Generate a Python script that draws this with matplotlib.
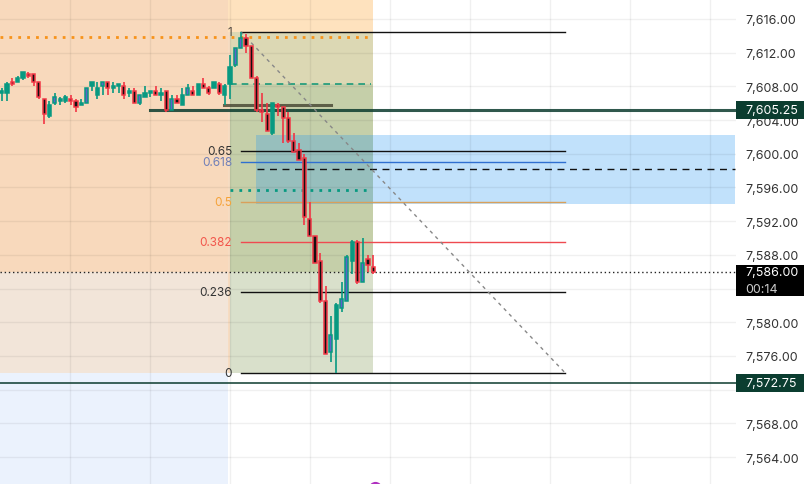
import matplotlib
matplotlib.use("Agg")
import matplotlib.pyplot as plt
import matplotlib.transforms as mtransforms
from matplotlib.patches import Rectangle

plt.rcParams['font.family'] = ['Inter', 'DejaVu Sans']

# candle data (one per bar)
opens = [7607.25, 7607.25, 7608.5, 7608.5, 7609.0, 7609.5, 7609.5, 7608.5, 7606.5, 7604.5,
         7606.0, 7606.25, 7606.25, 7606.5, 7606.25, 7605.75, 7606.0, 7608.0, 7607.0, 7608.0,
         7608.5, 7607.75, 7608.0, 7608.0, 7607.25, 7607.5, 7606.0, 7606.75, 7607.25, 7607.5,
         7607.0, 7607.5, 7605.25, 7606.5, 7605.75, 7607.0, 7607.5, 7607.0, 7608.25, 7607.75,
         7607.75, 7608.25, 7607.0, 7608.25, 7610.5, 7612.5, 7613.75, 7612.75, 7609.0, 7605.25,
         7604.75, 7602.5, 7605.75, 7605.5, 7604.25, 7601.5, 7600.5, 7599.5, 7592.25, 7590.25,
         7587.25, 7582.5, 7576.5, 7578.0, 7581.75, 7582.5, 7587.25, 7589.5, 7584.75, 7587.5,
         7586.5]
highs = [7607.75, 7608.5, 7609.0, 7609.25, 7609.75, 7609.75, 7609.5, 7608.5, 7606.5, 7606.25,
         7607.25, 7606.75, 7607.0, 7607.0, 7606.5, 7606.5, 7607.75, 7608.5, 7608.5, 7608.5,
         7608.5, 7608.5, 7608.25, 7608.5, 7607.75, 7607.75, 7607.0, 7608.0, 7607.5, 7608.0,
         7607.75, 7607.5, 7607.0, 7607.0, 7607.75, 7608.25, 7608.0, 7608.25, 7609.0, 7608.0,
         7608.5, 7608.5, 7608.25, 7611.75, 7612.5, 7614.5, 7614.25, 7612.75, 7609.25, 7607.25,
         7606.0, 7606.0, 7606.0, 7605.5, 7605.0, 7602.5, 7601.25, 7600.0, 7594.25, 7590.25,
         7588.25, 7584.25, 7580.75, 7582.25, 7584.75, 7588.0, 7589.75, 7589.75, 7590.0, 7588.0,
         7588.0]
lows = [7606.25, 7606.25, 7608.0, 7608.5, 7608.75, 7609.0, 7608.0, 7606.5, 7603.5, 7604.25,
        7605.75, 7605.75, 7606.0, 7605.75, 7605.0, 7605.75, 7606.0, 7607.5, 7606.5, 7607.0,
        7607.0, 7607.25, 7607.25, 7606.5, 7606.75, 7606.0, 7605.75, 7606.75, 7606.75, 7607.0,
        7606.25, 7605.0, 7605.25, 7606.0, 7605.75, 7607.0, 7607.0, 7607.0, 7607.75, 7607.0,
        7607.75, 7607.0, 7605.75, 7606.5, 7610.25, 7612.5, 7612.0, 7609.0, 7605.0, 7603.75,
        7602.75, 7602.25, 7604.5, 7601.25, 7601.25, 7600.25, 7599.25, 7591.5, 7590.25, 7587.0,
        7582.25, 7576.25, 7575.25, 7574.0, 7581.25, 7582.5, 7585.75, 7584.5, 7584.75, 7586.0,
        7585.75]
closes = [7607.5, 7608.25, 7608.25, 7609.0, 7609.75, 7609.25, 7608.5, 7606.75, 7604.75, 7605.75,
          7606.75, 7606.5, 7606.75, 7606.25, 7605.5, 7606.0, 7607.75, 7608.5, 7607.75, 7608.5,
          7607.75, 7608.0, 7608.25, 7607.0, 7607.5, 7606.0, 7607.0, 7607.25, 7607.5, 7607.0,
          7607.25, 7605.25, 7606.5, 7606.0, 7607.0, 7607.75, 7607.0, 7608.25, 7607.75, 7607.25,
          7608.5, 7607.25, 7608.0, 7610.25, 7612.5, 7613.75, 7612.75, 7609.0, 7605.25, 7605.0,
          7602.75, 7606.0, 7605.5, 7604.25, 7601.5, 7600.25, 7599.25, 7592.5, 7590.25, 7587.0,
          7582.5, 7576.25, 7578.5, 7582.0, 7582.75, 7587.75, 7589.5, 7584.75, 7587.0, 7586.75,
          7586.0]
violet = [10, 16, 19, 26, 32, 35, 44, 45, 62, 64, 65, 68]

# fib retracement
fib_high = 7614.5
fib_low = 7574.0
fib_ratios = [1, 0.65, 0.618, 0.5, 0.382, 0.236, 0]
fib_labels = ['1', '0.65', '0.618', '0.5', '0.382', '0.236', '0']
fib_line_colors = ['#111111', '#111111', '#2f6fd0', '#d9a05b', '#ef4a50', '#111111', '#111111']
fib_text_colors = ['#5a5048', '#333333', '#6f7fb8', '#f5a33a', '#f2564b', '#333333', '#333333']

# horizontal levels
last_price = 7586.0
level_a = 7605.25
level_b = 7572.75
yticks = [7564, 7568, 7572, 7576, 7580, 7584, 7588, 7592, 7596, 7600, 7604, 7608, 7612, 7616]
hidden_ticks = [7572, 7584]   # covered by the price boxes

W, H = 809, 485
fig = plt.figure(figsize=(W / 100, H / 100), dpi=100)
ax = fig.add_axes([0, 0, 736 / W, 1])
ymin, ymax = 7560.8, 7618.37
xmin, xmax = -0.32, 138.3
ax.set_xlim(xmin, xmax)
ax.set_ylim(ymin, ymax)
for s in ax.spines.values():
    s.set_visible(False)

# background zones
def zone(x0, x1, y0, y1, c, z=0):
    ax.add_patch(Rectangle((x0, y0), x1 - x0, y1 - y0, facecolor=c, edgecolor='none', zorder=z))

zone(xmin, 42.6, last_price, ymax, '#f8d9bc')
zone(xmin, 42.6, fib_low, last_price, '#f2e5d9')
zone(xmin, 42.6, ymin, fib_low, '#ebf2fd')
zone(42.6, 70, fib_high, ymax, '#fee2be')
zone(42.6, 43, fib_low, fib_high, '#f6dcc2')
zone(43, 70, 7608.25, fib_high, '#dcd8b4')
zone(43, 70, last_price, 7608.25, '#c5cfa9')
zone(43, 70, fib_low, last_price, '#d9e0cb')
ax.add_patch(Rectangle((47.9, 7594.0), 138.1 - 47.9, 8.25, facecolor='#2196f3', alpha=0.28,
                       edgecolor='none', zorder=1))

# grid
for yt in yticks:
    ax.axhline(yt, color='black', alpha=0.06, lw=1, zorder=1.5)
for k in range(9):
    ax.axvline(12.86 + 15.07 * k, color='black', alpha=0.06, lw=1, zorder=1.5)

# drawings
ax.plot([xmin, 70], [7613.85, 7613.85], color='#f7931a', lw=2, ls=(0, (1, 2.2)), zorder=2)
ax.plot([43, 69.5], [7608.25, 7608.25], color='#1a9a7a', lw=1.2, ls=(0, (4, 3)), zorder=2)
ax.plot([43, 69.5], [7595.75, 7595.75], color='#089981', lw=2, ls=(0, (1, 2.2)), zorder=2)
ax.plot([48.1, 138.1], [7598.25, 7598.25], color='#111111', lw=1, ls=(0, (5, 4)), zorder=2)
ax.plot([27.9, xmax], [level_a, level_a], color='#0b3b2e', lw=2.2, alpha=0.85, zorder=2)
ax.plot([41.9, 62], [7605.75, 7605.75], color='#3a3a28', lw=2.2, alpha=0.75, zorder=2)
ax.plot([xmin, xmax], [level_b, level_b], color='#0b3b2e', lw=1.1, zorder=2)
ax.plot([xmin, xmax], [last_price, last_price], color='#222222', lw=1, ls=(0, (1, 2)), zorder=2)

for r, lab, lc, tc in zip(fib_ratios, fib_labels, fib_line_colors, fib_text_colors):
    lv = fib_low + r * (fib_high - fib_low)
    ax.plot([45, 106.1], [lv, lv], color=lc, lw=1, zorder=2.5)
    ax.text(43.4, lv, lab, color=tc, fontsize=8.5, ha='right', va='center', zorder=3)
ax.plot([45, 106.1], [fib_high, fib_low], color='#888888', lw=1, ls=(0, (2.5, 3)), zorder=2.5)

# candles
for i in range(len(opens)):
    o, h, l, c = opens[i], highs[i], lows[i], closes[i]
    if c >= o:
        ec = '#089981'
        fc = '#5d62c8' if i in violet else '#089981'
    else:
        ec = '#f23645'
        fc = '#111111'
    ax.vlines(i, l, h, color=ec, lw=1.2, zorder=4)
    ax.add_patch(Rectangle((i - 0.3, min(o, c)), 0.6, max(abs(c - o), 0.12),
                           facecolor=fc, edgecolor=ec, lw=1.1, zorder=5))

ax.plot([70.3], [7560.3], marker='o', ms=8, mfc='none', mec='#b030c0', mew=1.5, zorder=5)

# price scale
ax.set_xticks([])
ax.yaxis.tick_right()
ax.set_yticks(yticks)
ax.set_yticklabels(['' if v in hidden_ticks else '{:,.2f}'.format(v) for v in yticks],
                   fontsize=9, color='#333333')
ax.tick_params(axis='y', length=0, pad=7)

tr = mtransforms.blended_transform_factory(fig.transFigure, ax.transData)
for price, col, sub, up, dn in [(level_a, '#0b3d30', None, 1.07, 1.07),
                                (last_price, '#000000', '00:14', 0.8, 2.9),
                                (level_b, '#0b3d30', None, 1.07, 1.07)]:
    fig.add_artist(Rectangle((736 / W, price - dn), 68 / W, up + dn, transform=tr,
                             facecolor=col, edgecolor='none', zorder=10))
    fig.text(745 / W, price, '{:,.2f}'.format(price), transform=tr, color='white',
             fontsize=9, va='center', ha='left', zorder=11)
    if sub:
        fig.text(745 / W, price - 2.05, sub, transform=tr, color='#cccccc',
                 fontsize=9, va='center', ha='left', zorder=11)

fig.savefig('out.png', dpi=100, facecolor='white')
